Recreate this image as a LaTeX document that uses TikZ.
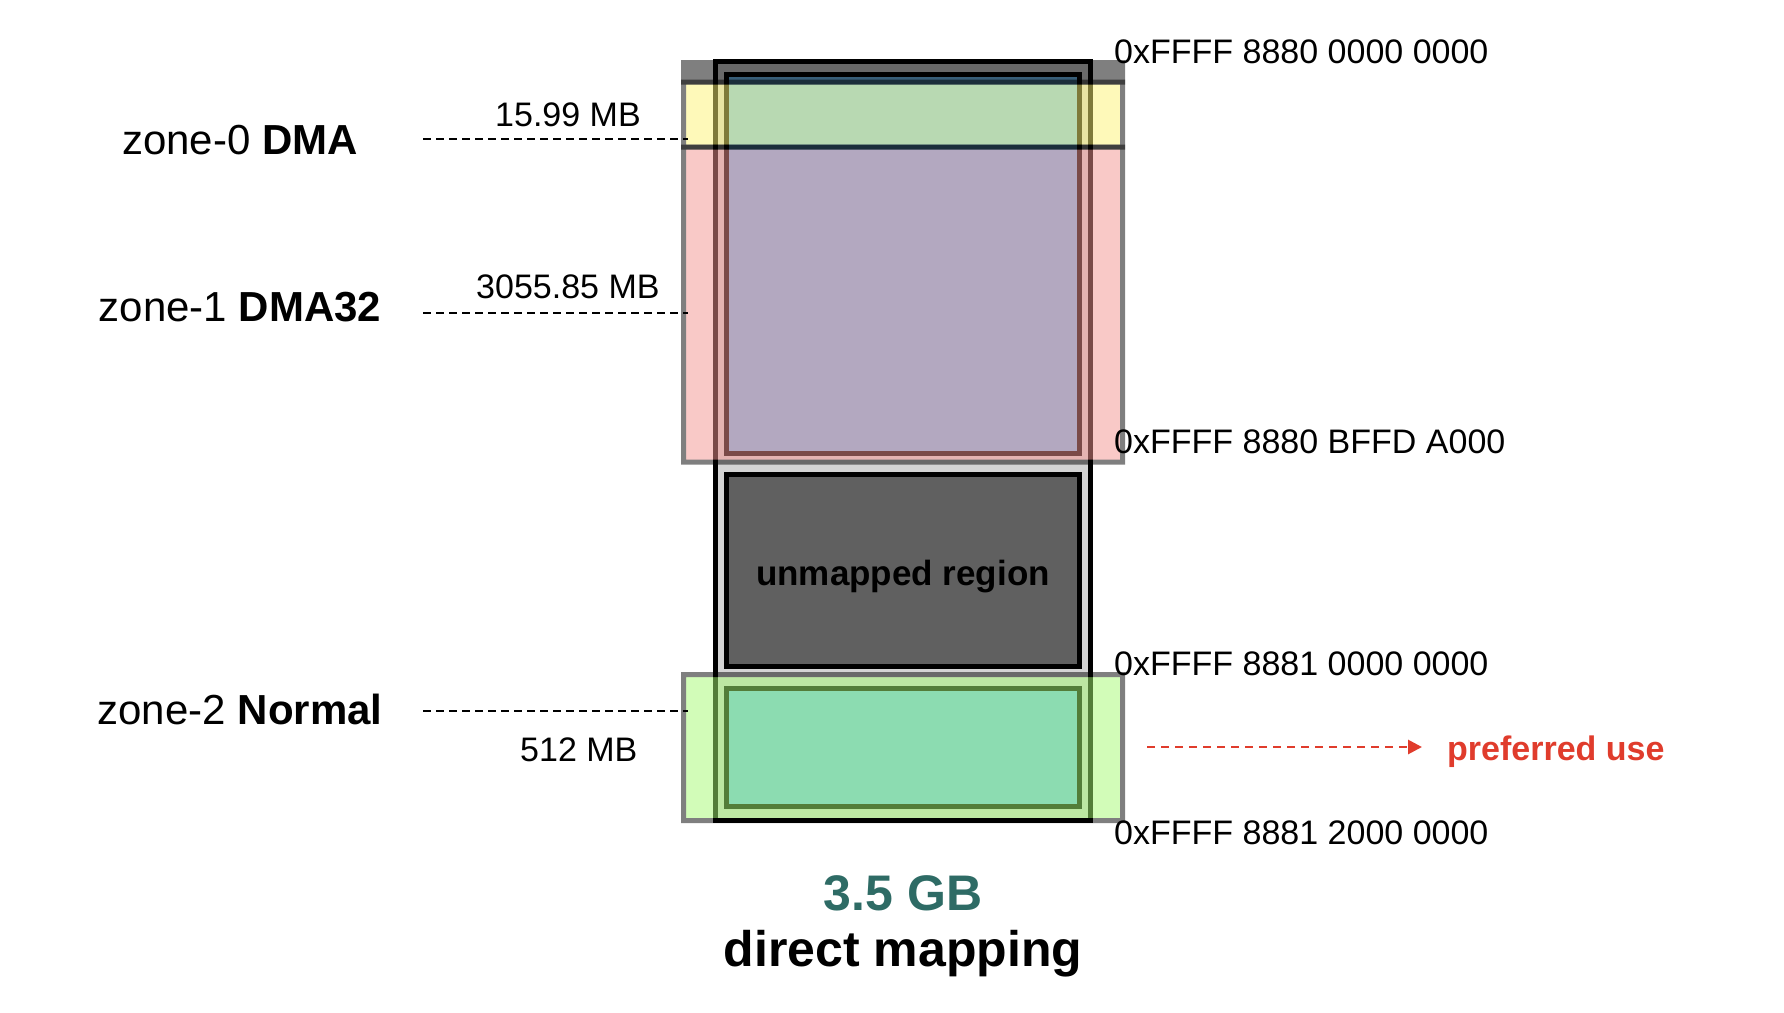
\documentclass[tikz,border=0pt]{standalone}
\usepackage{fontspec}
\setmainfont{Liberation Sans}
\usetikzlibrary{arrows.meta}
\definecolor{frameGray}{HTML}{D4D4D4}
\definecolor{innerBlue}{HTML}{72BEF2}
\definecolor{unmapGray}{HTML}{606060}
\definecolor{zYellow}{HTML}{FEF474}
\definecolor{zPink}{HTML}{F49490}
\definecolor{zGreen}{HTML}{A6FA72}
\definecolor{prefRed}{HTML}{E03C2C}
\definecolor{teal}{HTML}{2E6B65}
\tikzset{
  zonelbl/.style={font=\fontsize{42}{48}\selectfont, anchor=base, inner sep=0pt},
  sizelbl/.style={font=\fontsize{34}{40}\selectfont, anchor=base west, inner sep=0pt},
  addrlbl/.style={font=\fontsize{34}{40}\selectfont, anchor=base west, inner sep=0pt},
  boxline/.style={line width=5pt},
  leader/.style={draw=black, line width=2.8pt, dash pattern=on 8pt off 5pt},
}
\begin{document}
\begin{tikzpicture}[x=1pt,y=-1pt]
\useasboundingbox (0,0) rectangle (1784,1012);
\fill[white] (0,0) rectangle (1784,1012);

% outer 3.5 GB frame
\draw[boxline, fill=frameGray] (715.5,61.5) rectangle (1090.5,820.5);
% inner region mapped by DMA/DMA32
\draw[boxline, fill=innerBlue] (726.5,74.5) rectangle (1079.5,453.5);
% unmapped region
\draw[boxline, fill=unmapGray] (726.5,474.5) rectangle (1079.5,666.5);
\node[font=\bfseries\fontsize{35}{40}\selectfont, inner sep=0pt, anchor=base] (unm) at (903,585) {unmapped region};
% inner region of Normal
\draw[boxline, fill=innerBlue] (726.5,688.5) rectangle (1079.5,806.5);

% zone overlays
\begin{scope}[transparency group, opacity=0.5]
\draw[boxline, fill=black] (683.5,62.5) rectangle (1122.5,82);
\end{scope}
\begin{scope}[transparency group, opacity=0.5]
\draw[boxline, fill=zYellow] (683.5,82) rectangle (1122.5,147);
\end{scope}
\begin{scope}[transparency group, opacity=0.5]
\draw[boxline, fill=zPink] (683.5,147) rectangle (1122.5,462);
\end{scope}
\begin{scope}[transparency group, opacity=0.5]
\draw[boxline, fill=zGreen] (683.5,674.5) rectangle (1122.5,820.5);
\end{scope}

% zone labels
\node[zonelbl] (z0) at (240,154) {zone-0 \textbf{DMA}};
\node[zonelbl] (z1) at (240,321) {zone-1 \textbf{DMA32}};
\node[zonelbl] (z2) at (240,724) {zone-2 \textbf{Normal}};

% size labels
\node[sizelbl] (s0) at (495,126) {15.99 MB};
\node[sizelbl] (s1) at (476,298) {3055.85 MB};
\node[sizelbl] (s2) at (520,761) {512 MB};

% leader lines
\coordinate (l0a) at (423,139); \coordinate (l0b) at (688,139);
\coordinate (l1a) at (423,313); \coordinate (l1b) at (688,313);
\coordinate (l2a) at (423,711); \coordinate (l2b) at (688,711);
\draw[leader] (l0a) -- (l0b);
\draw[leader] (l1a) -- (l1b);
\draw[leader] (l2a) -- (l2b);

% addresses
\node[addrlbl] (a0) at (1114,63) {0xFFFF 8880 0000 0000};
\node[addrlbl] (a1) at (1114,453) {0xFFFF 8880 BFFD A000};
\node[addrlbl] (a2) at (1114,675) {0xFFFF 8881 0000 0000};
\node[addrlbl] (a3) at (1114,844) {0xFFFF 8881 2000 0000};

% preferred use
\node[font=\bfseries\fontsize{34}{40}\selectfont, text=prefRed, anchor=base west, inner sep=0pt] (pref) at (1447,760) {preferred use};
\coordinate (pa) at (1147,747);
\coordinate (pb) at (1422,747);
\draw[prefRed, line width=2.8pt, dash pattern=on 8pt off 6pt, -{Triangle[length=14pt,width=14pt]}] (pa) -- (pb);

% caption
\node[font=\bfseries\fontsize{50}{56}\selectfont, text=teal, anchor=base, inner sep=0pt] (cap1) at (903,910) {3.5 GB};
\node[font=\bfseries\fontsize{50}{56}\selectfont, anchor=base, inner sep=0pt] (cap2) at (903,966) {direct mapping};
\end{tikzpicture}
\end{document}
